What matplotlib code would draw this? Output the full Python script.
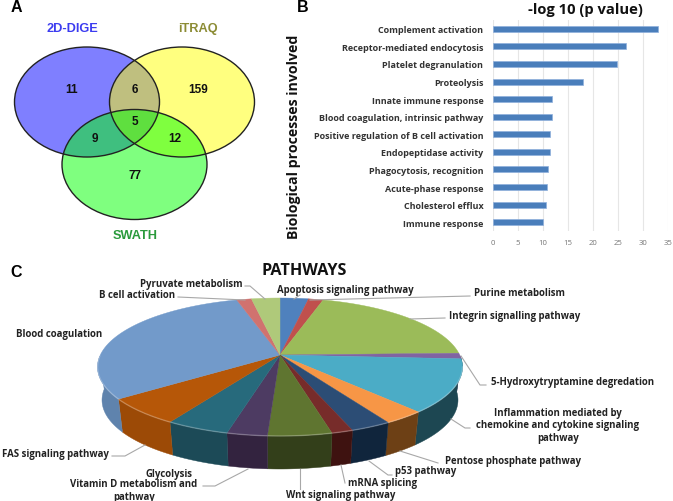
import numpy as np
import matplotlib
matplotlib.use("Agg")
import matplotlib.pyplot as plt
from matplotlib.patches import Ellipse, Polygon

plt.rcParams["font.family"] = ["Open Sans", "DejaVu Sans"]

# panel A
venn_counts = ["11", "6", "159", "5", "9", "12", "77"]
venn_names = ["2D-DIGE", "iTRAQ", "SWATH"]

# panel B
processes = ["Complement activation", "Receptor-mediated endocytosis", "Platelet degranulation",
             "Proteolysis", "Innate immune response", "Blood coagulation, intrinsic pathway",
             "Positive regulation of B cell activation", "Endopeptidase activity",
             "Phagocytosis, recognition", "Acute-phase response", "Cholesterol efflux",
             "Immune response"]
log_p = [33, 26.5, 24.7, 18, 11.7, 11.7, 11.3, 11.3, 10.9, 10.7, 10.6, 10]

# panel C, clockwise from the top
pathways = ["Apoptosis signaling pathway", "Purine metabolism", "Integrin signalling pathway",
            "5-Hydroxytryptamine degredation", "Inflammation mediated by\nchemokine and cytokine signaling\npathway",
            "Pentose phosphate pathway", "p53 pathway", "mRNA splicing", "Wnt signaling pathway",
            "Glycolysis", "Vitamin D metabolism and\npathway", "FAS signaling pathway",
            "Blood coagulation", "B cell activation", "Pyruvate metabolism"]
shares = [2.5, 1.3, 18, 1.3, 13.2, 3.6, 3.6, 1.9, 5.7, 3.6, 5.6, 7, 28.9, 1.3, 2.5]
top_colors = ["#4f81bd", "#c0504d", "#9bbb59", "#8064a2", "#4bacc6", "#f79646", "#2c4d75", "#772c2a",
              "#5f7530", "#4d3b62", "#276a7c", "#b65708", "#729aca", "#d0726f", "#afc97a"]
side_colors = ["#3a6090", "#903c3a", "#748c42", "#604b7a", "#1d4752", "#6d4015", "#10253c", "#3e1210",
               "#333f1a", "#33233f", "#1c4a57", "#9c4a06", "#5f83ad", "#9c5553", "#83975b"]

fig = plt.figure(figsize=(6.73, 5.02), dpi=100)
ax = fig.add_axes([0, 0, 1, 1])
ax.set_xlim(0, 673)
ax.set_ylim(502, 0)
ax.axis("off")

for x, y, s in [(16, 8, "A"), (303, 8, "B"), (16, 273, "C")]:
    ax.text(x, y, s, family="Liberation Sans", weight="bold", fontsize=11.5, ha="center", va="center")

# venn
for c, col in [((87, 103), "#0000ff"), ((182, 103), "#ffff00"), ((134.5, 165.5), "#00ff00")]:
    ax.add_patch(Ellipse(c, 145, 110, fc=col, alpha=0.5, ec="none"))
for c in [(87, 103), (182, 103), (134.5, 165.5)]:
    ax.add_patch(Ellipse(c, 145, 110, fc="none", ec="#222222", lw=1))
venn_xy = [(72, 90), (135, 90), (198, 90), (135, 122), (95, 139), (175, 139), (135, 176)]
for (x, y), s in zip(venn_xy, venn_counts):
    ax.text(x, y, s, family="Liberation Sans", weight="bold", fontsize=8.5, ha="center", va="center", color="#111111")
name_xy = [(72, 29), (198, 29), (135, 236)]
for (x, y), s, col in zip(name_xy, venn_names, ["#3c3cf0", "#8c8c35", "#2a9a3c"]):
    ax.text(x, y, s, family="Liberation Sans", weight="bold", fontsize=9.2, ha="center", va="center", color=col)

# bars
bx = fig.add_axes([493 / 673, 1 - 232 / 502, 175 / 673, 211 / 502])
pos = np.arange(len(processes))
bx.barh(pos, log_p, height=0.34, color="#4a7ebb", edgecolor="#8fb0dc", linewidth=0.5, zorder=3)
bx.set_ylim(len(processes) - 0.5, -0.5)
bx.set_xlim(0, 35)
bx.set_xticks(np.arange(0, 36, 5))
bx.set_yticks(pos)
bx.set_yticklabels(processes, fontsize=6.5, weight="bold", color="#333333")
bx.tick_params(axis="y", length=0, pad=7)
bx.tick_params(axis="x", length=0, labelsize=5.6, labelcolor="#777777", pad=6)
bx.grid(axis="x", color="#e6e6e6", lw=0.8, zorder=0)
for s in bx.spines.values():
    s.set_visible(False)
ax.text(585, 10, "-log 10 (p value)", fontsize=10.6, weight="bold", ha="center", va="center", color="#111111")
ax.text(294, 137, "Biological processes involved", fontsize=10.2, weight="bold", rotation=90,
        ha="center", va="center", color="#111111")

# 3d pie, apex sits above the ellipse centre
cx, cy, rx, ry = 280, 368, 182.5, 69
bcx, bcy, brx, bry = 280, 401, 178, 69
apex = (280, 356)
edges = np.concatenate([[0], np.cumsum(shares)]) / np.sum(shares) * 2 * np.pi


def arc(a, b, x0, y0, w, h):
    t = np.linspace(a, b, 60)
    return np.column_stack([x0 + w * np.sin(t), y0 - h * np.cos(t)])


for i, col in enumerate(side_colors):
    a, b = max(edges[i], np.pi * 0.45), min(edges[i + 1], np.pi * 1.55)
    if b <= a:
        continue
    pts = np.vstack([arc(a, b, cx, cy, rx, ry), arc(b, a, bcx, bcy, brx, bry)])
    ax.add_patch(Polygon(pts, fc=col, ec=col, lw=0.3))
for i, col in enumerate(top_colors):
    pts = np.vstack([[apex], arc(edges[i], edges[i + 1], cx, cy, rx, ry)])
    ax.add_patch(Polygon(pts, fc=col, ec=col, lw=0.3))
rim = arc(np.pi * 0.5, np.pi * 1.55, cx, cy, rx, ry)
ax.plot(rim[:, 0], rim[:, 1], color="white", alpha=0.25, lw=1)

ax.text(304, 271, "PATHWAYS", fontsize=11.6, weight="bold", ha="center", va="center", color="#111111")

label_xy = [(345, 291), (519, 294), (515, 317), (573, 383), (558, 426), (513, 462), (426, 472), (382, 484),
            (341, 496), (169, 475), (134, 491), (55, 455), (59, 335), (137, 296), (191, 285)]
for (x, y), s in zip(label_xy, pathways):
    ax.text(x, y, s, fontsize=6.9, weight="bold", ha="center", va="center", color="#222222", linespacing=1.2)

leaders = [[(300, 296), (294, 300)], [(470, 297), (310, 301)], [(445, 319), (410, 320)],
           [(461, 357), (480, 386), (486, 386)], [(451, 420), (465, 429), (470, 429)],
           [(400, 452), (438, 464)], [(369, 462), (388, 476), (392, 476)], [(341, 466), (345, 484)],
           [(300, 470), (300, 490)], [(248, 470), (215, 487), (203, 487)], [(145, 446), (125, 457), (112, 457)],
           [(178, 298), (245, 301)], [(245, 287), (250, 287), (265, 300)]]
for line in leaders:
    xs, ys = zip(*line)
    ax.plot(xs, ys, color="#a8a8a8", lw=0.8)

fig.savefig("out.png", dpi=100)
